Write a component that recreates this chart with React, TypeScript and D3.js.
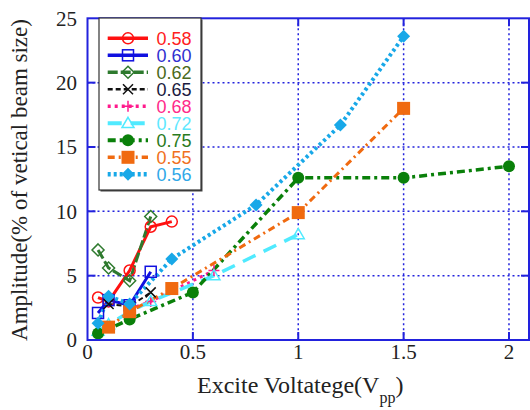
import React from "react";
import * as d3 from "d3";

type Pt = [number, number];

const labels = ["0.58", "0.60", "0.62", "0.65", "0.68", "0.72", "0.75", "0.55", "0.56"];

const s058: Pt[] = [[0.05, 3.3], [0.1, 3.0], [0.2, 5.4], [0.3, 8.8], [0.4, 9.2]];
const s060: Pt[] = [[0.05, 2.1], [0.1, 3.1], [0.2, 2.7], [0.3, 5.3]];
const s062: Pt[] = [[0.05, 7.0], [0.1, 5.6], [0.2, 4.6], [0.3, 9.6]];
const s065: Pt[] = [[0.1, 2.8], [0.2, 2.6], [0.3, 3.7]];
const s068: Pt[] = [[0.2, 2.4], [0.3, 3.0], [0.6, 5.4]];
const s072: Pt[] = [[0.05, 0.7], [0.1, 1.2], [0.2, 2.2], [0.3, 3.0], [0.6, 5.0], [1.0, 8.2]];
const s075: Pt[] = [[0.05, 0.5], [0.2, 1.6], [0.5, 3.7], [1.0, 12.6], [1.5, 12.6], [2.0, 13.5]];
const s055: Pt[] = [[0.1, 1.0], [0.2, 2.2], [0.4, 4.0], [1.0, 9.9], [1.5, 18.0]];
const s056: Pt[] = [[0.05, 1.3], [0.1, 3.4], [0.2, 2.8], [0.4, 6.3], [0.8, 10.5], [1.2, 16.7], [1.5, 23.6]];

const seriesData: Pt[][] = [s058, s060, s062, s065, s068, s072, s075, s055, s056];

const xTicks = [0, 0.5, 1, 1.5, 2];
const yTicks = [0, 5, 10, 15, 20, 25];

type Style = { color: string; text: string; dash: string; width: number; marker: string };
const styles: Style[] = [
  { color: "#ff1010", text: "#ff2020", dash: "", width: 3, marker: "ocircle" },
  { color: "#1010e0", text: "#3030d0", dash: "", width: 3, marker: "osquare" },
  { color: "#2e7a2e", text: "#4a6a20", dash: "10,3", width: 3, marker: "odiamond" },
  { color: "#111111", text: "#1a1a40", dash: "5,3", width: 2, marker: "x" },
  { color: "#ff1a8c", text: "#ff2a8a", dash: "3,4", width: 3, marker: "plus" },
  { color: "#50eaff", text: "#60e8ff", dash: "14,9", width: 3.5, marker: "otriangle" },
  { color: "#0a800a", text: "#2a7a20", dash: "8,4,3,4", width: 3.5, marker: "fcircle" },
  { color: "#f06a10", text: "#f07020", dash: "7,4,2,4", width: 3, marker: "fsquare" },
  { color: "#18a8e8", text: "#30a8e8", dash: "3,3", width: 4, marker: "fdiamond" },
];

const blue = "#2222dd";
const serif = "'Liberation Serif', 'DejaVu Serif', serif";
const sans = "'Liberation Sans', Arial, sans-serif";

function Marker({ kind, x, y, color, s = 1 }: { kind: string; x: number; y: number; color: string; s?: number }) {
  switch (kind) {
    case "ocircle":
      return <circle cx={x} cy={y} r={5.5 * s} fill="none" stroke={color} strokeWidth={1.5} />;
    case "osquare":
      return <rect x={x - 5.5 * s} y={y - 5.5 * s} width={11 * s} height={11 * s} fill="none" stroke={color} strokeWidth={1.5} />;
    case "odiamond": {
      const r = 6 * s;
      return <path d={`M${x},${y - r}L${x + r},${y}L${x},${y + r}L${x - r},${y}Z`} fill="none" stroke={color} strokeWidth={1.5} />;
    }
    case "x": {
      const r = 5 * s;
      return <path d={`M${x - r},${y - r}L${x + r},${y + r}M${x - r},${y + r}L${x + r},${y - r}`} stroke={color} strokeWidth={1.5} />;
    }
    case "plus": {
      const r = 5.5 * s;
      return <path d={`M${x - r},${y}L${x + r},${y}M${x},${y - r}L${x},${y + r}`} stroke={color} strokeWidth={1.5} />;
    }
    case "otriangle": {
      const r = 6 * s;
      return <path d={`M${x},${y - r}L${x + r},${y + r * 0.7}L${x - r},${y + r * 0.7}Z`} fill="none" stroke={color} strokeWidth={1.5} />;
    }
    case "fcircle":
      return <circle cx={x} cy={y} r={6 * s} fill={color} />;
    case "fsquare":
      return <rect x={x - 6.5 * s} y={y - 6.5 * s} width={13 * s} height={13 * s} fill={color} />;
    case "fdiamond": {
      const r = 6.5 * s;
      return <path d={`M${x},${y - r}L${x + r},${y}L${x},${y + r}L${x - r},${y}Z`} fill={color} />;
    }
  }
  return null;
}

export default function App() {
  const W = 530, H = 410;
  const left = 87.5, right = 529, top = 18.3, bottom = 340;
  const x = d3.scaleLinear().domain([0, 2.095]).range([left, right]);
  const y = d3.scaleLinear().domain([0, 25]).range([bottom, top]);
  const line = d3.line<Pt>().x((d) => x(d[0])).y((d) => y(d[1]));

  const legX = 99, legY = 18, legW = 102, legH = 172;
  const rowY = (i: number) => 38.3 + i * 17;

  return (
    <svg width={W} height={H} style={{ position: "absolute", left: 0, top: 0, background: "#fff" }}>
      <rect x={0} y={0} width={W} height={H} fill="#fff" />
      {xTicks.filter((t) => t > 0).map((t) => (
        <line key={"gx" + t} x1={x(t)} x2={x(t)} y1={top} y2={bottom} stroke={blue} strokeWidth={1.5} strokeDasharray="2,3" />
      ))}
      {yTicks.filter((t) => t > 0 && t < 25).map((t) => (
        <line key={"gy" + t} x1={left} x2={right} y1={y(t)} y2={y(t)} stroke={blue} strokeWidth={1.5} strokeDasharray="2,3" />
      ))}
      {xTicks.filter((t) => t > 0).map((t) => (
        <g key={"tx" + t}>
          <line x1={x(t)} x2={x(t)} y1={bottom} y2={bottom - 8} stroke={blue} strokeWidth={2} />
          <line x1={x(t)} x2={x(t)} y1={top} y2={top + 8} stroke={blue} strokeWidth={2} />
        </g>
      ))}
      {yTicks.filter((t) => t > 0 && t < 25).map((t) => (
        <g key={"ty" + t}>
          <line x1={left} x2={left + 8} y1={y(t)} y2={y(t)} stroke={blue} strokeWidth={2} />
          <line x1={right} x2={right - 8} y1={y(t)} y2={y(t)} stroke={blue} strokeWidth={2} />
        </g>
      ))}
      {seriesData.map((data, i) => (
        <path key={"l" + i} d={line(data) || ""} fill="none" stroke={styles[i].color} strokeWidth={styles[i].width} strokeDasharray={styles[i].dash} />
      ))}
      {seriesData.map((data, i) => (
        <g key={"m" + i}>
          {data.map((d, j) => (
            <Marker key={j} kind={styles[i].marker} x={x(d[0])} y={y(d[1])} color={styles[i].color} />
          ))}
        </g>
      ))}
      <rect x={left} y={top} width={right - left} height={bottom - top} fill="none" stroke={blue} strokeWidth={2} />
      <rect x={legX + 1.5} y={legY + 1.5} width={legW} height={legH} fill="#444" />
      <rect x={legX} y={legY} width={legW} height={legH} fill="#fff" stroke="#333" strokeWidth={1.2} />
      {labels.map((lab, i) => (
        <g key={"lg" + i}>
          <line x1={107.7} x2={148} y1={rowY(i)} y2={rowY(i)} stroke={styles[i].color} strokeWidth={styles[i].width + 0.5} strokeDasharray={styles[i].dash} />
          <Marker kind={styles[i].marker} x={128} y={rowY(i)} color={styles[i].color} />
          <text x={156.5} y={rowY(i)} dy="0.36em" style={{ fontFamily: sans, fontSize: "18px" }} fill={styles[i].text}>{lab}</text>
        </g>
      ))}
      {xTicks.map((t) => (
        <text key={"xl" + t} x={x(t)} y={359} textAnchor="middle" style={{ fontFamily: serif, fontSize: "21px" }} fill="#222">{t}</text>
      ))}
      {yTicks.map((t) => (
        <text key={"yl" + t} x={77} y={y(t)} dy="0.35em" textAnchor="end" style={{ fontFamily: serif, fontSize: "21px" }} fill="#222">{t}</text>
      ))}
      <text x={197} y={393} style={{ fontFamily: serif, fontSize: "24px" }} fill="#222">
        Excite Voltatege(V<tspan dy={10} style={{ fontSize: "16px" }}>pp</tspan><tspan dy={-10}>)</tspan>
      </text>
      <text transform="translate(27,180) rotate(-90)" textAnchor="middle" style={{ fontFamily: serif, fontSize: "23px" }} fill="#222">
        Amplitude(% of vetical beam size)
      </text>
    </svg>
  );
}
